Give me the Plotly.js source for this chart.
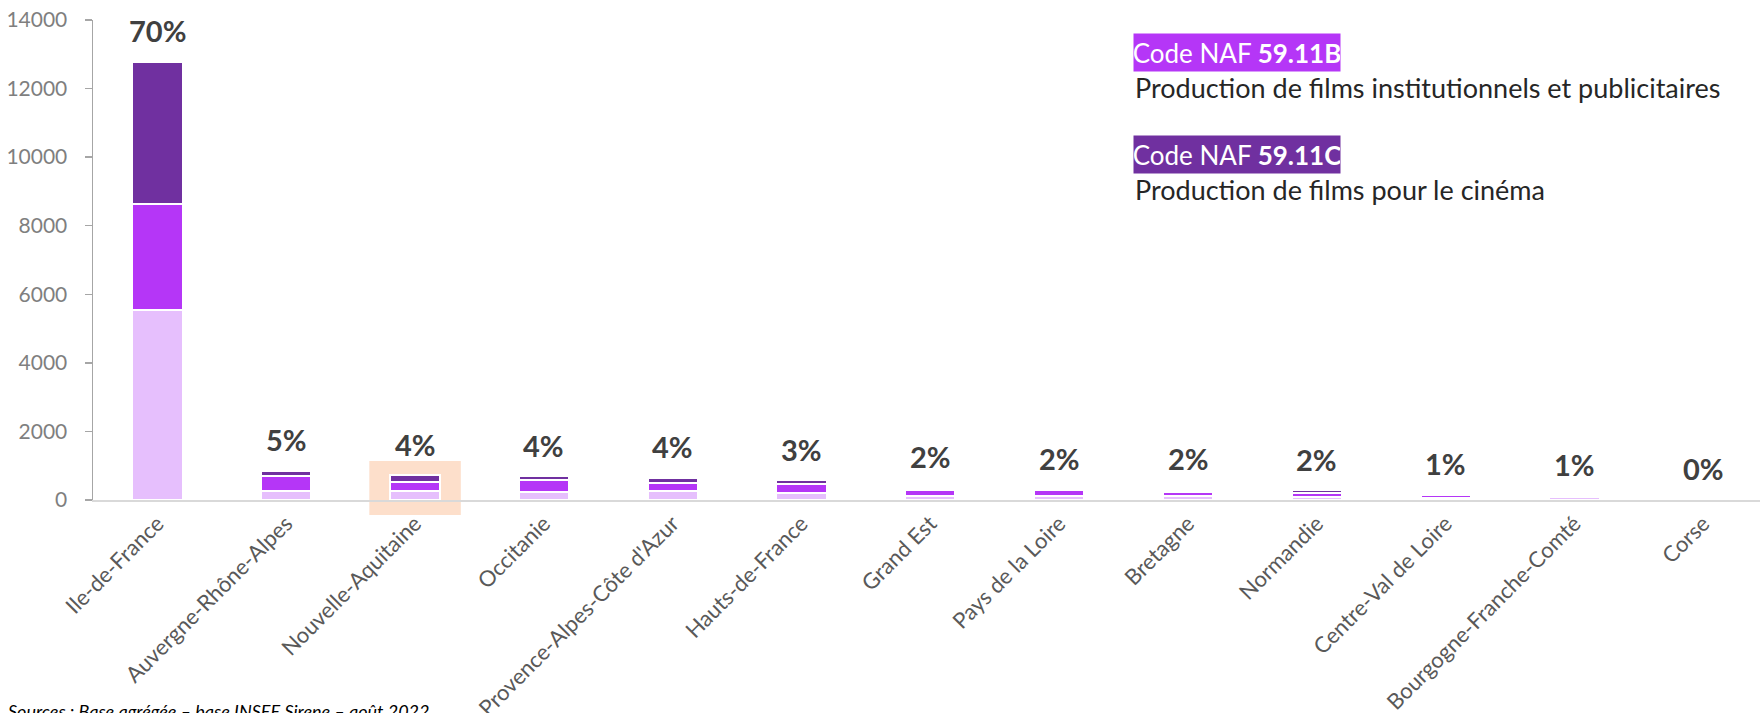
<!DOCTYPE html>
<html>
<head>
<meta charset="utf-8">
<script src="https://cdn.plot.ly/plotly-3.0.1.min.js"></script>
<style>
  html, body { margin: 0; padding: 0; background: #ffffff; }
  #chart { width: 1760px; height: 713px; }
</style>
</head>
<body>
<div id="chart"></div>
<script>
// ---- Data ----
var regions = ['Ile-de-France', 'Auvergne-Rhône-Alpes', 'Nouvelle-Aquitaine', 'Occitanie',
  "Provence-Alpes-Côte d'Azur", 'Hauts-de-France', 'Grand Est', 'Pays de la Loire',
  'Bretagne', 'Normandie', 'Centre-Val de Loire', 'Bourgogne-Franche-Comté', 'Corse'];

// bottom segment (light lilac)
var naf5911A = [5540, 277, 268, 248, 262, 204, 108, 125, 108, 100, 70, 100, 8];
// middle segment: Code NAF 59.11B (bright purple)
var naf5911B = [3080, 432, 257, 329, 248, 263, 192, 175, 134, 95, 90, 15, 4];
// top segment: Code NAF 59.11C (dark purple)
var naf5911C = [4160, 145, 204, 123, 132, 102, 59, 5, 58, 85, 5, 5, 2];

var shareLabels = ['70%', '5%', '4%', '4%', '4%', '3%', '2%', '2%', '2%', '2%', '1%', '1%', '0%'];

var highlighted = 'Nouvelle-Aquitaine';

var yTicks = [0, 2000, 4000, 6000, 8000, 10000, 12000, 14000];

// ---- Styles ----
var colLight = '#E6BFFD';
var colBright = '#B536F7';
var colDark = '#7030A0';
var FONT = 'Lato, "Open Sans", "Liberation Sans", sans-serif';

function barTrace(vals, color, name) {
  return {
    type: 'bar', x: regions, y: vals, name: name,
    marker: { color: color, line: { color: '#ffffff', width: 2 } },
    hoverinfo: 'x+y+name', showlegend: false
  };
}

var traces = [
  barTrace(naf5911A, colLight, 'Autres'),
  barTrace(naf5911B, colBright, 'Code NAF 59.11B'),
  barTrace(naf5911C, colDark, 'Code NAF 59.11C')
];

var totals = regions.map(function (r, i) { return naf5911A[i] + naf5911B[i] + naf5911C[i]; });

var annotations = regions.map(function (r, i) {
  return {
    x: r, y: totals[i], xref: 'x', yref: 'y', yshift: 31,
    text: '<b>' + shareLabels[i] + '</b>', showarrow: false,
    xanchor: 'center', yanchor: 'middle',
    font: { family: FONT, size: 29, color: '#404040' }
  };
});

// Legend-like text blocks (paper coordinates)
annotations.push(
  { xref: 'paper', yref: 'paper', x: 0.6239, y: 0.9333, xanchor: 'left', yanchor: 'middle',
    text: 'Code NAF <b>59.11B</b>', showarrow: false, bgcolor: colBright, borderpad: 0,
    width: 206, height: 37, align: 'center',
    font: { family: FONT, size: 26, color: '#ffffff' } },
  { xref: 'paper', yref: 'paper', x: 0.6239, y: 0.8604, xanchor: 'left', yanchor: 'middle',
    text: 'Production de films institutionnels et publicitaires', showarrow: false,
    font: { family: FONT, size: 27, color: '#262626' } },
  { xref: 'paper', yref: 'paper', x: 0.6239, y: 0.7208, xanchor: 'left', yanchor: 'middle',
    text: 'Code NAF <b>59.11C</b>', showarrow: false, bgcolor: colDark, borderpad: 0,
    width: 206, height: 37, align: 'center',
    font: { family: FONT, size: 26, color: '#ffffff' } },
  { xref: 'paper', yref: 'paper', x: 0.6239, y: 0.6479, xanchor: 'left', yanchor: 'middle',
    text: 'Production de films pour le cinéma', showarrow: false,
    font: { family: FONT, size: 27, color: '#262626' } },
  { xref: 'paper', yref: 'paper', x: -0.052, y: -0.44, xanchor: 'left', yanchor: 'middle',
    text: '<i>Sources : Base agrégée – base INSEE Sirene – août 2022</i>', showarrow: false,
    font: { family: FONT, size: 18, color: '#000000' } }
);

var hIdx = regions.indexOf(highlighted);

var layout = {
  width: 1760, height: 713,
  margin: { l: 93, r: 0, t: 20, b: 213, pad: 0 },
  paper_bgcolor: '#ffffff', plot_bgcolor: 'rgba(0,0,0,0)',
  barmode: 'stack', bargap: 0.61,
  showlegend: false,
  font: { family: FONT },
  xaxis: {
    type: 'category', range: [-0.5, 12.44], fixedrange: true,
    tickangle: -45, ticks: '', showgrid: false, zeroline: false,
    showline: true, linecolor: '#d9d9d9', linewidth: 2,
    tickfont: { family: FONT, size: 22, color: '#595959' }
  },
  yaxis: {
    range: [0, 14000], tickvals: yTicks, ticktext: yTicks.map(String), fixedrange: true,
    showgrid: false, zeroline: false,
    showline: true, linecolor: '#a6a6a6', linewidth: 1.5,
    ticks: 'outside', ticklen: 7, tickcolor: '#a6a6a6', tickwidth: 1.5,
    ticklabelstandoff: 13,
    tickfont: { family: FONT, size: 21, color: '#7f7f7f' }
  },
  shapes: [{
    type: 'rect', layer: 'below', xref: 'x', yref: 'paper',
    x0: hIdx - 0.355, x1: hIdx + 0.355, y0: -0.03125, y1: 0.08125,
    fillcolor: '#FDDFCB', line: { width: 0 }
  }],
  annotations: annotations
};

Plotly.newPlot('chart', traces, layout, { displayModeBar: false, staticPlot: true });
</script>
</body>
</html>
